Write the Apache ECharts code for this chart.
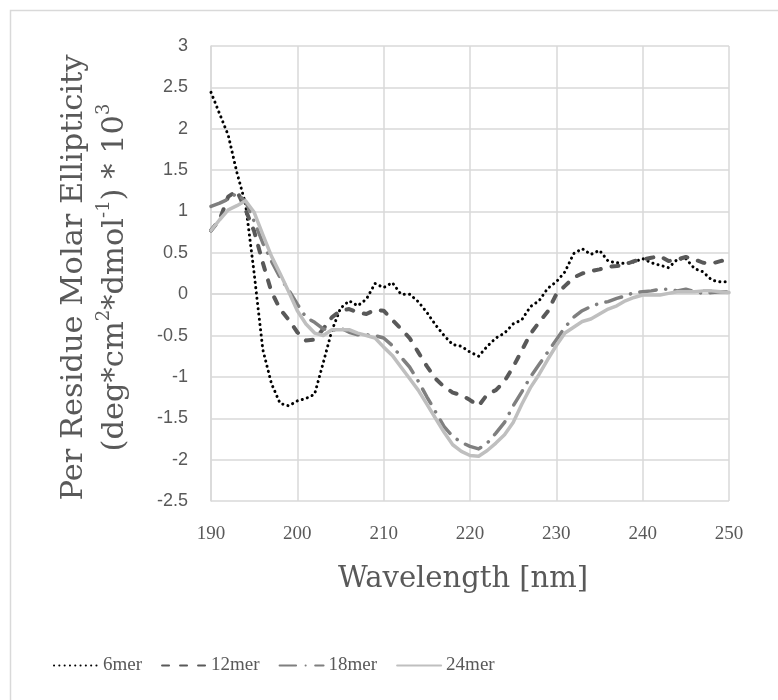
<!DOCTYPE html>
<html>
<head>
<meta charset="utf-8">
<script src="https://cdn.jsdelivr.net/npm/echarts@6/dist/echarts.min.js"></script>
<style>
  html, body { margin: 0; padding: 0; background: #ffffff; }
  #chart { width: 778px; height: 700px; }
</style>
</head>
<body>
<div id="chart"></div>
<script>
// CD spectra: per-residue molar ellipticity vs wavelength for four oligomer lengths
const wavelengths = [
  190, 191, 192, 193, 194, 195, 196, 197, 198, 199,
  200, 201, 202, 203, 204, 205, 206, 207, 208, 209,
  210, 211, 212, 213, 214, 215, 216, 217, 218, 219,
  220, 221, 222, 223, 224, 225, 226, 227, 228, 229,
  230, 231, 232, 233, 234, 235, 236, 237, 238, 239,
  240, 241, 242, 243, 244, 245, 246, 247, 248, 249, 250
];

const mer6 = [
  2.44, 2.18, 1.92, 1.47, 1.09, 0.25, -0.67, -1.08, -1.32, -1.35,
  -1.29, -1.26, -1.21, -0.83, -0.44, -0.17, -0.08, -0.14, -0.06, 0.13,
  0.08, 0.14, 0.00, 0.00, -0.09, -0.22, -0.37, -0.50, -0.61, -0.63,
  -0.70, -0.75, -0.63, -0.53, -0.47, -0.36, -0.31, -0.15, -0.08, 0.07,
  0.15, 0.27, 0.49, 0.55, 0.48, 0.53, 0.40, 0.38, 0.37, 0.39,
  0.43, 0.38, 0.35, 0.32, 0.42, 0.43, 0.31, 0.27, 0.17, 0.15, 0.15
];

const mer12 = [
  0.77, 0.90, 1.18, 1.25, 1.02, 0.76, 0.38, 0.03, -0.18, -0.31,
  -0.46, -0.56, -0.55, -0.42, -0.28, -0.20, -0.18, -0.22, -0.24, -0.19,
  -0.20, -0.31, -0.42, -0.53, -0.70, -0.87, -1.02, -1.12, -1.19, -1.22,
  -1.28, -1.35, -1.21, -1.16, -1.05, -0.88, -0.68, -0.48, -0.34, -0.21,
  0.00, 0.10, 0.20, 0.25, 0.28, 0.30, 0.33, 0.34, 0.36, 0.40,
  0.42, 0.44, 0.46, 0.40, 0.42, 0.45, 0.42, 0.38, 0.37, 0.40, 0.42
];

const mer18 = [
  1.06, 1.10, 1.15, 1.22, 1.12, 0.88, 0.62, 0.40, 0.20, 0.05,
  -0.12, -0.28, -0.34, -0.42, -0.44, -0.41, -0.46, -0.49, -0.49, -0.50,
  -0.53, -0.62, -0.76, -0.88, -1.05, -1.24, -1.42, -1.60, -1.72, -1.79,
  -1.84, -1.87, -1.80, -1.68, -1.55, -1.35, -1.18, -1.00, -0.85, -0.70,
  -0.55, -0.40, -0.28, -0.20, -0.15, -0.11, -0.09, -0.05, -0.02, 0.02,
  0.03, 0.04, 0.06, 0.06, 0.04, 0.06, 0.03, 0.01, 0.02, 0.03, 0.03
];

const mer24 = [
  0.77, 0.90, 1.02, 1.07, 1.13, 0.99, 0.72, 0.46, 0.25, 0.03,
  -0.20, -0.36, -0.47, -0.50, -0.43, -0.43, -0.43, -0.47, -0.50, -0.53,
  -0.64, -0.74, -0.88, -1.02, -1.16, -1.33, -1.50, -1.67, -1.82, -1.90,
  -1.95, -1.96, -1.89, -1.80, -1.70, -1.55, -1.33, -1.13, -0.97, -0.79,
  -0.62, -0.47, -0.40, -0.33, -0.30, -0.24, -0.18, -0.14, -0.08, -0.04,
  -0.01, -0.01, -0.01, 0.01, 0.03, 0.03, 0.03, 0.04, 0.04, 0.03, 0.02
];

const seriesNames = ['6mer', '12mer', '18mer', '24mer'];
const xTicks = { min: 190, max: 250, step: 10 };
const yTicks = { min: -2.5, max: 3, step: 0.5 };

const SERIF = '"DejaVu Serif", serif';
const SERIF_NARROW = '"Liberation Serif", "Times New Roman", serif';
const SANS = '"Liberation Sans", Arial, sans-serif';
const TEXT = '#595959';
const GRID = '#d9d9d9';

function pairs(values) {
  return wavelengths.map((w, i) => [w, values[i]]);
}

const lineLook = [
  { color: '#000000', width: 3, type: [0.1, 5.2], cap: 'round' },
  { color: '#595959', width: 4, type: [7, 11], cap: 'round' },
  { color: '#7f7f7f', width: 3.5, type: [16.5, 9.5, 0.1, 9.5], cap: 'round' },
  { color: '#bfbfbf', width: 3.5, type: 'solid', cap: 'round' }
];

const valueSets = [mer6, mer12, mer18, mer24];

const chart = echarts.init(document.getElementById('chart'), null, { renderer: 'canvas' });

chart.setOption({
  animation: false,
  backgroundColor: '#ffffff',
  graphic: [{
    type: 'rect',
    shape: { x: 10.5, y: 10.5, width: 1200, height: 1200 },
    style: { fill: 'none', stroke: GRID, lineWidth: 1.5 },
    silent: true
  }],
  grid: { left: 211, right: 49, top: 46, bottom: 199, containLabel: false },
  legend: {
    left: 48,
    top: 651,
    padding: 5,
    itemWidth: 44,
    itemHeight: 14,
    itemGap: 19,
    itemStyle: { opacity: 0 },
    textStyle: { fontFamily: SERIF_NARROW, fontSize: 19, color: TEXT },
    data: seriesNames
  },
  xAxis: {
    type: 'value',
    min: xTicks.min,
    max: xTicks.max,
    interval: xTicks.step,
    name: 'Wavelength [nm]',
    nameLocation: 'middle',
    nameGap: 64,
    nameTextStyle: { fontFamily: SERIF, fontSize: 29, color: TEXT, padding: [0, 14, 0, 0] },
    axisLine: { show: true, lineStyle: { color: GRID, width: 1.5 } },
    axisTick: { show: false },
    axisLabel: { margin: 24, fontFamily: SERIF_NARROW, fontSize: 19, color: TEXT },
    splitLine: { show: true, lineStyle: { color: GRID, width: 1.5 } }
  },
  yAxis: {
    type: 'value',
    min: yTicks.min,
    max: yTicks.max,
    interval: yTicks.step,
    name: '{t|Per Residue Molar Ellipticity}\n{t|(deg*cm}{s|2}{t|*dmol}{s|-1}{t|) * 10}{s|3}',
    nameLocation: 'middle',
    nameRotate: 90,
    nameGap: 75,
    nameTextStyle: {
      color: TEXT,
      padding: [0, 8, 0, 0],
      rich: {
        t: { fontFamily: SERIF, fontSize: 30.5, lineHeight: 41, color: TEXT },
        s: { fontFamily: SERIF, fontSize: 18, lineHeight: 41, verticalAlign: 'top', color: TEXT }
      }
    },
    axisLine: { show: true, lineStyle: { color: GRID, width: 1.5 } },
    axisTick: { show: false },
    axisLabel: { margin: 23, fontFamily: SANS, fontSize: 18, color: TEXT },
    splitLine: { show: true, lineStyle: { color: GRID, width: 1.5 } }
  },
  series: seriesNames.map((name, i) => ({
    name: name,
    type: 'line',
    data: pairs(valueSets[i]),
    symbol: 'none',
    showSymbol: false,
    smooth: false,
    lineStyle: {
      color: lineLook[i].color,
      width: lineLook[i].width,
      type: lineLook[i].type,
      cap: lineLook[i].cap,
      join: 'round'
    },
    itemStyle: { color: lineLook[i].color },
    z: 2 + i
  }))
});
</script>
</body>
</html>
